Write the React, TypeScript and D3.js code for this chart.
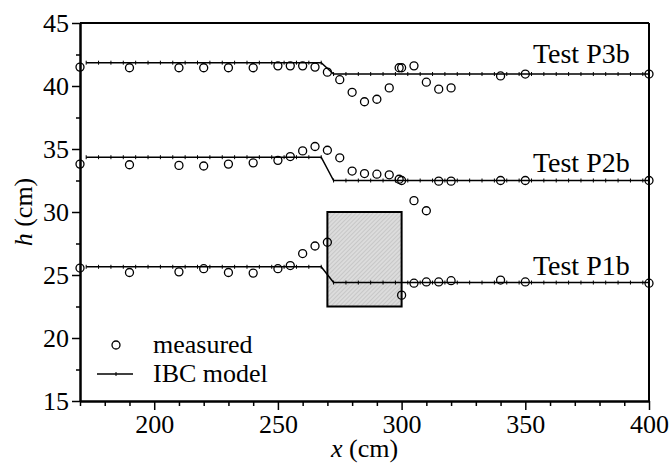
import React, { useEffect, useRef } from 'react';
import * as d3 from 'd3';

const WIDTH = 670;
const HEIGHT = 466;

const MARGIN = { top: 23, right: 21, bottom: 65, left: 80 };

const FONT = '"Liberation Serif"';

// measured water depths (cm)
const xP3b = [170, 190, 210, 220, 230, 240, 250, 255, 260, 265, 270, 275, 280, 285, 290, 295, 299, 300, 305, 310, 315, 320, 340, 350, 400];
const hP3b = [41.5, 41.45, 41.45, 41.45, 41.45, 41.45, 41.6, 41.6, 41.6, 41.5, 41.1, 40.5, 39.5, 38.75, 38.95, 39.85, 41.45, 41.45, 41.6, 40.3, 39.75, 39.85, 40.8, 40.95, 40.95];

const xP2b = [170, 190, 210, 220, 230, 240, 250, 255, 260, 265, 270, 275, 280, 285, 290, 295, 299, 300, 305, 310, 315, 320, 340, 350, 400];
const hP2b = [33.8, 33.75, 33.7, 33.65, 33.8, 33.9, 34.1, 34.4, 34.85, 35.2, 34.9, 34.3, 33.25, 33.05, 33.0, 32.95, 32.6, 32.5, 30.9, 30.1, 32.45, 32.45, 32.5, 32.5, 32.5];

const xP1b = [170, 190, 210, 220, 230, 240, 250, 255, 260, 265, 270, 300, 305, 310, 315, 320, 340, 350, 400];
const hP1b = [25.55, 25.2, 25.25, 25.5, 25.2, 25.15, 25.5, 25.75, 26.7, 27.3, 27.6, 23.4, 24.35, 24.45, 24.45, 24.55, 24.6, 24.45, 24.35];

// IBC model nodes
const modelX = [
  172.5, 177.5, 182.5, 187.5, 192.5, 197.5, 202.5, 207.5, 212.5, 217.5,
  222.5, 227.5, 232.5, 237.5, 242.5, 247.5, 252.5, 257.5, 262.5, 267.5,
  272.5, 277.5, 282.5, 287.5, 292.5, 297.5, 302.5, 307.5, 312.5, 317.5,
  322.5, 327.5, 332.5, 337.5, 342.5, 347.5, 352.5, 357.5, 362.5, 367.5,
  372.5, 377.5, 382.5, 387.5, 392.5, 397.5, 400,
];
const modelP3b = [
  41.85, 41.85, 41.85, 41.85, 41.85, 41.85, 41.85, 41.85, 41.85, 41.85,
  41.85, 41.85, 41.85, 41.85, 41.85, 41.85, 41.85, 41.85, 41.85, 41.85,
  40.95, 40.95, 40.95, 40.95, 40.95, 40.95, 40.95, 40.95, 40.95, 40.95,
  40.95, 40.95, 40.95, 40.95, 40.95, 40.95, 40.95, 40.95, 40.95, 40.95,
  40.95, 40.95, 40.95, 40.95, 40.95, 40.95, 40.95,
];
const modelP2b = [
  34.35, 34.35, 34.35, 34.35, 34.35, 34.35, 34.35, 34.35, 34.35, 34.35,
  34.35, 34.35, 34.35, 34.35, 34.35, 34.35, 34.35, 34.35, 34.35, 34.35,
  32.5, 32.5, 32.5, 32.5, 32.5, 32.5, 32.5, 32.5, 32.5, 32.5,
  32.5, 32.5, 32.5, 32.5, 32.5, 32.5, 32.5, 32.5, 32.5, 32.5,
  32.5, 32.5, 32.5, 32.5, 32.5, 32.5, 32.5,
];
const modelP1b = [
  25.65, 25.65, 25.65, 25.65, 25.65, 25.65, 25.65, 25.65, 25.65, 25.65,
  25.65, 25.65, 25.65, 25.65, 25.65, 25.65, 25.65, 25.65, 25.65, 25.65,
  24.4, 24.4, 24.4, 24.4, 24.4, 24.4, 24.4, 24.4, 24.4, 24.4,
  24.4, 24.4, 24.4, 24.4, 24.4, 24.4, 24.4, 24.4, 24.4, 24.4,
  24.4, 24.4, 24.4, 24.4, 24.4, 24.4, 24.4,
];

const testNames = ['Test P3b', 'Test P2b', 'Test P1b'];

// obstacle block (cm)
const blockX = [270, 300];
const blockH = [22.5, 30];

const xMajor = [200, 250, 300, 350, 400];
const xMinor = [170, 180, 190, 210, 220, 230, 240, 260, 270, 280, 290, 310, 320, 330, 340, 360, 370, 380, 390];
const yMajor = [15, 20, 25, 30, 35, 40, 45];
const yMinor = [17.5, 22.5, 27.5, 32.5, 37.5, 42.5];

const x = d3.scaleLinear().domain([170, 400]).range([MARGIN.left, WIDTH - MARGIN.right]);
const y = d3.scaleLinear().domain([15, 45]).range([HEIGHT - MARGIN.bottom, MARGIN.top]);

const series = [
  { name: testNames[0], mx: xP3b, mh: hP3b, model: modelP3b, dy: -11 },
  { name: testNames[1], mx: xP2b, mh: hP2b, model: modelP2b, dy: -9 },
  { name: testNames[2], mx: xP1b, mh: hP1b, model: modelP1b, dy: -8 },
];

const txt = (size: number) => ({ fontFamily: FONT, fontSize: size });

export default function App() {
  const xAxisRef = useRef<SVGGElement>(null);
  const yAxisRef = useRef<SVGGElement>(null);

  useEffect(() => {
    const gx = d3.select(xAxisRef.current);
    gx.selectAll('*').remove();
    gx.append('g').call(d3.axisBottom(x).tickValues(xMinor).tickSize(5).tickFormat(() => '').tickSizeOuter(0));
    gx.append('g').call(d3.axisBottom(x).tickValues(xMajor).tickSize(9).tickPadding(5).tickSizeOuter(0));
    gx.selectAll('path.domain').attr('stroke-width', 2);
    gx.selectAll('line').attr('stroke-width', 1.5);
    gx.selectAll('text').style('font-family', FONT).style('font-size', '26px').attr('fill', '#000');

    const gy = d3.select(yAxisRef.current);
    gy.selectAll('*').remove();
    gy.append('g').call(d3.axisLeft(y).tickValues(yMinor).tickSize(4).tickFormat(() => '').tickSizeOuter(0));
    gy.append('g').call(d3.axisLeft(y).tickValues(yMajor).tickSize(8).tickPadding(3).tickSizeOuter(0));
    gy.selectAll('path.domain').attr('stroke-width', 2);
    gy.selectAll('line').attr('stroke-width', 1.5);
    gy.selectAll('text').style('font-family', FONT).style('font-size', '26px').attr('fill', '#000');
  }, []);

  const line = d3.line<number>().x((_, i) => x(modelX[i])).y(d => y(d));

  const x0 = x.range()[0];
  const x1 = x.range()[1];
  const y0 = y.range()[0];
  const y1 = y.range()[1];

  return (
    <svg width={WIDTH} height={HEIGHT} style={{ position: 'absolute', left: 0, top: 0 }}>
      <defs>
        <pattern id="hatch" width="3" height="3" patternUnits="userSpaceOnUse" patternTransform="rotate(45)">
          <rect width="3" height="3" fill="#dcdcdc" />
          <line x1="0" y1="0" x2="0" y2="3" stroke="#a8a8a8" strokeWidth="0.8" />
        </pattern>
      </defs>
      <rect width={WIDTH} height={HEIGHT} fill="#fff" />

      {/* obstacle */}
      <rect
        x={x(blockX[0])}
        y={y(blockH[1])}
        width={x(blockX[1]) - x(blockX[0])}
        height={y(blockH[0]) - y(blockH[1])}
        fill="url(#hatch)"
        stroke="#000"
        strokeWidth={2}
      />

      {series.map(s => (
        <g key={s.name}>
          <path d={line(s.model) || ''} fill="none" stroke="#000" strokeWidth={1.5} />
          {s.model.map((h, i) => (
            <line key={i} x1={x(modelX[i])} x2={x(modelX[i])} y1={y(h) - 2} y2={y(h) + 2} stroke="#000" strokeWidth={1} />
          ))}
          {s.mh.map((h, i) => (
            <circle key={i} cx={x(s.mx[i])} cy={y(h)} r={4} fill="none" stroke="#000" strokeWidth={1.3} />
          ))}
          <text
            x={x(392.2)}
            y={y(s.model[s.model.length - 1]) + s.dy}
            textAnchor="end"
            style={txt(28)}
          >
            {s.name}
          </text>
        </g>
      ))}

      {/* frame */}
      <line x1={x0} x2={x1} y1={y1} y2={y1} stroke="#000" strokeWidth={2} />
      <line x1={x1} x2={x1} y1={y1} y2={y0} stroke="#000" strokeWidth={2} />

      <g ref={xAxisRef} transform={`translate(0, ${y0})`} />
      <g ref={yAxisRef} transform={`translate(${x0}, 0)`} />

      {/* legend */}
      <circle cx={116} cy={345} r={4} fill="none" stroke="#000" strokeWidth={1.3} />
      <text x={153} y={353} style={txt(26)}>measured</text>
      <line x1={97} x2={133} y1={374} y2={374} stroke="#000" strokeWidth={1.5} />
      <line x1={116} x2={116} y1={372} y2={376} stroke="#000" strokeWidth={1} />
      <text x={153} y={382} style={txt(26)}>IBC model</text>

      {/* axis titles */}
      <text x={(x0 + x1) / 2} y={457} textAnchor="middle" style={txt(26)}>
        <tspan fontStyle="italic">x</tspan> (cm)
      </text>
      <text transform={`translate(32, ${(y0 + y1) / 2}) rotate(-90)`} textAnchor="middle" style={txt(26)}>
        <tspan fontStyle="italic">h</tspan> (cm)
      </text>
    </svg>
  );
}
